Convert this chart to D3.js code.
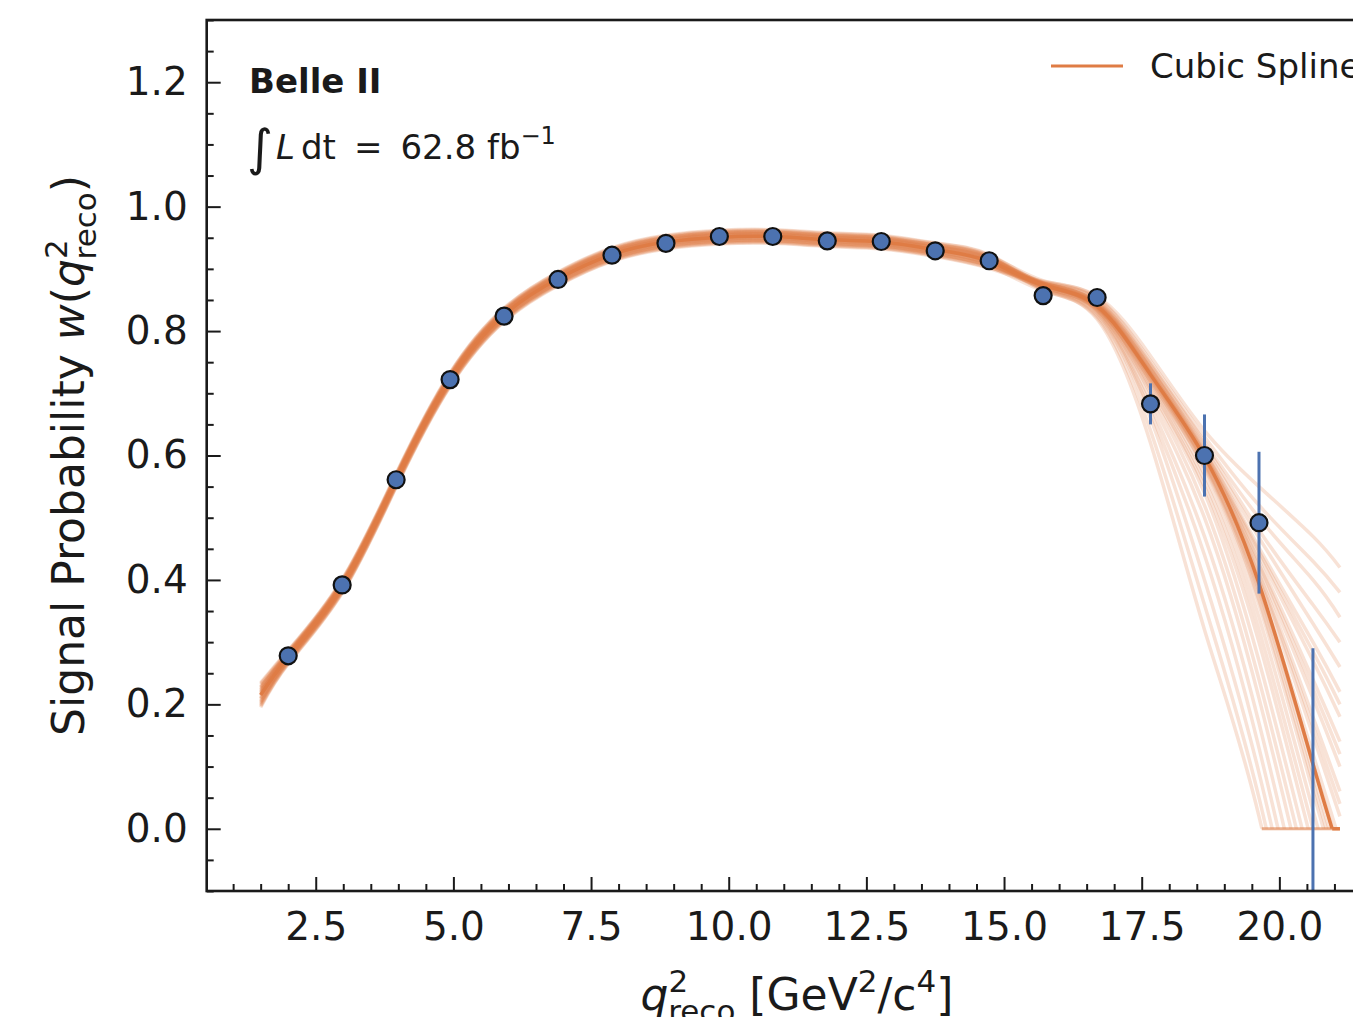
<!DOCTYPE html>
<html>
<head>
<meta charset="utf-8">
<script src="https://cdn.jsdelivr.net/npm/d3@7"></script>
<style>
  body { margin: 0; background: #fff; }
  svg { display: block; font-family: "DejaVu Sans", sans-serif; }
</style>
</head>
<body>
<svg id="chart" width="1353" height="1017"></svg>
<script>

// binned signal probability
let binX   = [2.00, 2.98, 3.96, 4.94, 5.92, 6.90, 7.88, 8.86, 9.83, 10.80, 11.79, 12.77, 13.75, 14.73, 15.71, 16.69, 17.66, 18.64, 19.63, 20.61];
let binW   = [0.278, 0.392, 0.561, 0.722, 0.824, 0.883, 0.922, 0.941, 0.952, 0.952, 0.945, 0.944, 0.929, 0.913, 0.857, 0.854, 0.683, 0.600, 0.492, -0.15];
let binErr = [0.006, 0.006, 0.006, 0.006, 0.005, 0.005, 0.005, 0.005, 0.005, 0.005, 0.005, 0.005, 0.006, 0.007, 0.010, 0.012, 0.033, 0.066, 0.114, 0.44];

// spline knots: common head part and tail part
let headX = [1.5, 2.0, 2.98, 3.96, 4.94, 5.92, 6.90, 7.88, 8.86, 9.83, 10.80, 11.79, 12.77, 13.75, 14.73];
let tailX = [15.71, 16.69, 17.66, 18.64, 19.63, 20.61, 21.1];

let centralHead = [0.215, 0.276, 0.390, 0.560, 0.722, 0.826, 0.884, 0.923, 0.943, 0.951, 0.952, 0.947, 0.943, 0.931, 0.912];
let centralTail = [0.874, 0.840, 0.730, 0.598, 0.394, 0.104, -0.04];

// toy splines (bootstrap), head shift + tail values
let toyShift = [0.009, -0.006, 0.003, -0.010, 0.006, 0.000, -0.003, 0.011, -0.007, 0.004, -0.001, 0.007, -0.009,
                0.001, -0.004, 0.010, -0.011, 0.003, 0.005, -0.005, 0.000, 0.008, -0.002, 0.004, -0.008,
                0.002, -0.006, 0.007, -0.003, 0.005];
let toyStart = [0.232, 0.203, 0.220, 0.198, 0.226, 0.215, 0.210, 0.235, 0.201, 0.221, 0.213, 0.228, 0.197,
                0.217, 0.207, 0.233, 0.195, 0.218, 0.224, 0.205, 0.215, 0.229, 0.210, 0.222, 0.200,
                0.219, 0.204, 0.227, 0.209, 0.224];
let toyTails = [
  [0.881, 0.856, 0.760, 0.640, 0.550, 0.470, 0.420],
  [0.880, 0.854, 0.752, 0.630, 0.520, 0.430, 0.380],
  [0.879, 0.852, 0.748, 0.622, 0.500, 0.400, 0.340],
  [0.878, 0.850, 0.745, 0.618, 0.480, 0.360, 0.300],
  [0.878, 0.848, 0.742, 0.612, 0.468, 0.330, 0.260],
  [0.877, 0.846, 0.740, 0.608, 0.452, 0.300, 0.220],
  [0.877, 0.845, 0.738, 0.604, 0.440, 0.270, 0.180],
  [0.876, 0.844, 0.735, 0.600, 0.430, 0.240, 0.140],
  [0.876, 0.843, 0.732, 0.598, 0.418, 0.210, 0.100],
  [0.875, 0.842, 0.730, 0.595, 0.410, 0.180, 0.060],
  [0.875, 0.841, 0.729, 0.592, 0.400, 0.150, 0.020],
  [0.874, 0.840, 0.728, 0.590, 0.388, 0.120, -0.020],
  [0.874, 0.839, 0.725, 0.585, 0.378, 0.090, -0.060],
  [0.873, 0.838, 0.720, 0.580, 0.360, 0.060, -0.090],
  [0.873, 0.837, 0.718, 0.570, 0.340, 0.030, -0.120],
  [0.872, 0.836, 0.715, 0.560, 0.320, 0.000, -0.150],
  [0.872, 0.835, 0.710, 0.550, 0.300, -0.030, -0.190],
  [0.871, 0.834, 0.705, 0.540, 0.270, -0.070, -0.240],
  [0.871, 0.833, 0.700, 0.520, 0.240, -0.110, -0.280],
  [0.870, 0.832, 0.690, 0.500, 0.210, -0.150, -0.330],
  [0.869, 0.830, 0.680, 0.470, 0.170, -0.200, -0.380],
  [0.868, 0.828, 0.670, 0.440, 0.130, -0.250, -0.440],
  [0.867, 0.825, 0.660, 0.400, 0.090, -0.300, -0.500],
  [0.866, 0.822, 0.640, 0.360, 0.050, -0.350, -0.550],
  [0.865, 0.819, 0.620, 0.320, 0.020, -0.400, -0.600],
  [0.876, 0.844, 0.733, 0.602, 0.425, 0.225, 0.120],
  [0.875, 0.842, 0.731, 0.596, 0.405, 0.165, 0.040],
  [0.874, 0.840, 0.726, 0.588, 0.383, 0.105, -0.040],
  [0.873, 0.838, 0.722, 0.582, 0.368, 0.075, -0.075],
  [0.877, 0.846, 0.739, 0.606, 0.446, 0.285, 0.200]
];

// where toys / central get clipped to zero
let floorToys = [19.68, 21.1];
let floorCentral = [20.96, 21.1];

let xTicks = [2.5, 5.0, 7.5, 10.0, 12.5, 15.0, 17.5, 20.0];
let yTicks = [0.0, 0.2, 0.4, 0.6, 0.8, 1.0, 1.2];

let orange = "#df7c45";
let blue = "#4c72b0";

let svg = d3.select("#chart");

let pLeft = 206.7, pRight = 1393.9, pTop = 20, pBottom = 891;

let x = d3.scaleLinear().domain([0.52, 22.08]).range([pLeft, pRight]);
let y = d3.scaleLinear().domain([-0.1, 1.3]).range([pBottom, pTop]);

let defs = svg.append("defs");
defs.append("clipPath").attr("id", "plotClip")
  .append("rect")
  .attr("x", pLeft).attr("y", pTop)
  .attr("width", pRight - pLeft).attr("height", pBottom - pTop);
defs.append("clipPath").attr("id", "zeroClip")
  .append("rect")
  .attr("x", pLeft).attr("y", pTop)
  .attr("width", pRight - pLeft).attr("height", y(0) - pTop);

let line = d3.line()
  .x(d => x(d[0]))
  .y(d => y(d[1]))
  .curve(d3.curveNatural);

// toy curves
let toyData = toyTails.map(function(tail, i) {
  let p = headX.map((hx, j) => [hx, j == 0 ? toyStart[i] : centralHead[j] + toyShift[i]]);
  return p.concat(tailX.map((tx, j) => [tx, tail[j]]));
});

let curves = svg.append("g").attr("clip-path", "url(#zeroClip)");

curves.selectAll("path.toy")
  .data(toyData)
  .join("path")
  .attr("class", "toy")
  .attr("d", line)
  .style("fill", "none")
  .style("stroke", orange)
  .style("stroke-width", 3.5)
  .style("opacity", 0.22);

let centralData = headX.map((hx, j) => [hx, centralHead[j]])
  .concat(tailX.map((tx, j) => [tx, centralTail[j]]));

curves.append("path")
  .attr("d", line(centralData))
  .style("fill", "none")
  .style("stroke", orange)
  .style("stroke-width", 3.5);

// clipped (zero) parts
svg.append("line")
  .attr("x1", x(floorToys[0])).attr("x2", x(floorToys[1]))
  .attr("y1", y(0)).attr("y2", y(0))
  .style("stroke", orange).style("stroke-width", 3).style("opacity", 0.6);
svg.append("line")
  .attr("x1", x(floorCentral[0])).attr("x2", x(floorCentral[1]))
  .attr("y1", y(0)).attr("y2", y(0))
  .style("stroke", orange).style("stroke-width", 3.5);

// error bars + points
let pts = svg.append("g").attr("clip-path", "url(#plotClip)");

pts.selectAll("line.err")
  .data(binX)
  .join("line")
  .attr("class", "err")
  .attr("x1", d => x(d)).attr("x2", d => x(d))
  .attr("y1", (d, i) => y(binW[i] - binErr[i]))
  .attr("y2", (d, i) => y(binW[i] + binErr[i]))
  .style("stroke", blue)
  .style("stroke-width", 3);

pts.selectAll("circle")
  .data(binX)
  .join("circle")
  .attr("cx", d => x(d))
  .attr("cy", (d, i) => y(binW[i]))
  .attr("r", 8.5)
  .style("fill", blue)
  .style("stroke", "#111")
  .style("stroke-width", 2.2);

// axes, ticks inside
let xMinor = d3.range(1.0, 22.01, 0.5).filter(v => Math.abs(v / 2.5 - Math.round(v / 2.5)) > 1e-6);
let yMinor = d3.range(-0.1, 1.301, 0.05).filter(v => Math.abs(v / 0.2 - Math.round(v / 0.2)) > 1e-6);

svg.append("g")
  .attr("transform", "translate(0," + pBottom + ")")
  .call(d3.axisBottom(x).tickValues(xTicks).tickFormat(d3.format(".1f")).tickSize(-14).tickPadding(21));
svg.append("g")
  .attr("transform", "translate(0," + pBottom + ")")
  .call(d3.axisBottom(x).tickValues(xMinor).tickFormat("").tickSize(-7));

svg.append("g")
  .attr("transform", "translate(" + pLeft + ",0)")
  .call(d3.axisLeft(y).tickValues(yTicks).tickFormat(d3.format(".1f")).tickSize(-14).tickPadding(19));
svg.append("g")
  .attr("transform", "translate(" + pLeft + ",0)")
  .call(d3.axisLeft(y).tickValues(yMinor).tickFormat("").tickSize(-7));

svg.selectAll(".domain").remove();
svg.selectAll(".tick line").style("stroke", "#1a1a1a").style("stroke-width", 2);
svg.selectAll(".tick text")
  .style("font-family", "DejaVu Sans")
  .style("font-size", "39px")
  .style("fill", "#1a1a1a");

// frame
svg.append("rect")
  .attr("x", pLeft).attr("y", pTop)
  .attr("width", pRight - pLeft).attr("height", pBottom - pTop)
  .style("fill", "none")
  .style("stroke", "#1a1a1a")
  .style("stroke-width", 2.6);

// Belle II label
svg.append("text")
  .attr("x", 249).attr("y", 93)
  .style("font-size", "34px").style("font-weight", "bold").style("fill", "#1a1a1a")
  .text("Belle II");

let lumi = svg.append("text")
  .attr("x", 247).attr("y", 159)
  .style("font-size", "34px").style("fill", "#1a1a1a");
lumi.append("tspan").style("font-size", "50px").attr("dy", 6).text("\u222B");
lumi.append("tspan").style("font-style", "italic").attr("dx", 3).attr("dy", -6).text("L");
lumi.append("tspan").attr("dx", 6).text("dt");
lumi.append("tspan").attr("dx", 18).text("=");
lumi.append("tspan").attr("dx", 18).text("62.8 fb");
lumi.append("tspan").style("font-size", "24px").attr("dy", -15).text("\u22121");

// legend
svg.append("line")
  .attr("x1", 1051).attr("x2", 1123).attr("y1", 66).attr("y2", 66)
  .style("stroke", orange).style("stroke-width", 3);
svg.append("text")
  .attr("x", 1150).attr("y", 78)
  .style("font-size", "34px").style("fill", "#1a1a1a")
  .text("Cubic Spline");

// y label
let yLab = svg.append("text")
  .attr("transform", "translate(84," + ((pTop + pBottom) / 2) + ") rotate(-90)")
  .attr("text-anchor", "middle")
  .style("font-size", "44px").style("fill", "#1a1a1a");
yLab.append("tspan").text("Signal Probability ");
yLab.append("tspan").style("font-style", "italic").text("w");
yLab.append("tspan").text("(");
yLab.append("tspan").style("font-style", "italic").text("q");
yLab.append("tspan").style("font-size", "31px").attr("dy", -17).text("2");
yLab.append("tspan").style("font-size", "31px").attr("dx", -20).attr("dy", 29).text("reco");
yLab.append("tspan").attr("dy", -12).text(")");

// x label
let xLab = svg.append("text")
  .attr("x", 797).attr("y", 1010)
  .attr("text-anchor", "middle")
  .style("font-size", "44px").style("fill", "#1a1a1a");
xLab.append("tspan").style("font-style", "italic").text("q");
xLab.append("tspan").style("font-size", "31px").attr("dy", -18).text("2");
xLab.append("tspan").style("font-size", "31px").attr("dx", -20).attr("dy", 30).text("reco");
xLab.append("tspan").attr("dy", -12).text(" [GeV");
xLab.append("tspan").style("font-size", "31px").attr("dy", -18).text("2");
xLab.append("tspan").attr("dy", 18).text("/c");
xLab.append("tspan").style("font-size", "31px").attr("dy", -18).text("4");
xLab.append("tspan").attr("dy", 18).text("]");

</script>
</body>
</html>
